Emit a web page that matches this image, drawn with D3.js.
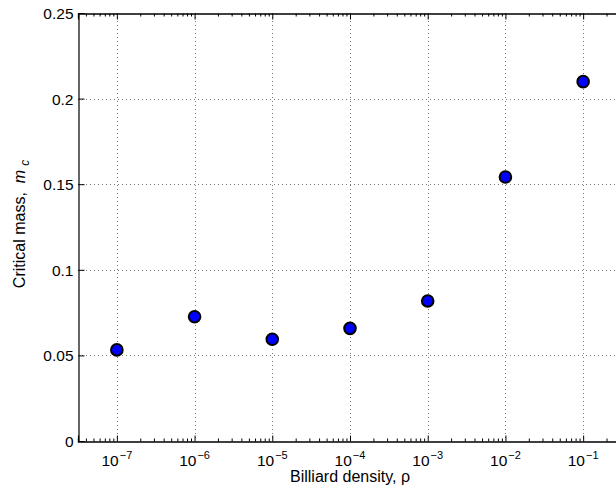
<!DOCTYPE html>
<html>
<head>
<meta charset="utf-8">
<script src="https://cdn.jsdelivr.net/npm/d3@7"></script>
<style>
  body { margin: 0; background: #fff; }
  text { font-family: "Liberation Sans", Arial, sans-serif; fill: #000; }
</style>
</head>
<body>
<script>
// data
var densityExp = [-7, -6, -5, -4, -3, -2, -1];
var criticalMass = [0.0532, 0.0726, 0.0594, 0.0658, 0.0818, 0.1542, 0.2099];
var yTicks = [0, 0.05, 0.1, 0.15, 0.2, 0.25];
var yTickLabels = ["0", "0.05", "0.1", "0.15", "0.2", "0.25"];

var W = 616, H = 494;
var plotL = 78, plotR = 622, plotT = 13, plotB = 441;

var svg = d3.select("body").append("svg")
  .attr("width", W)
  .attr("height", H);

var x = d3.scaleLog().domain([Math.pow(10, -7.5), Math.pow(10, -0.5)]).range([plotL, plotR]);
var y = d3.scaleLinear().domain([0, 0.25]).range([plotB, plotT]);

var majors = [];
for (var e = -7; e <= -1; e++) majors.push(Math.pow(10, e));
var minors = [];
for (var e = -8; e <= 0; e++) {
  for (var k = 2; k <= 9; k++) {
    var v = k * Math.pow(10, e);
    if (v > x.domain()[0] && v < x.domain()[1]) minors.push(v);
  }
}

// grid
var grid = svg.append("g")
  .attr("stroke", "#7a7a7a")
  .attr("stroke-width", 1)
  .attr("stroke-dasharray", "1,3");
grid.selectAll(".gx").data(majors).enter().append("line")
  .attr("x1", d => Math.round(x(d)) + 0.5).attr("x2", d => Math.round(x(d)) + 0.5)
  .attr("y1", plotT).attr("y2", plotB);
grid.selectAll(".gy").data(yTicks.slice(1, -1)).enter().append("line")
  .attr("y1", d => Math.round(y(d)) + 0.5).attr("y2", d => Math.round(y(d)) + 0.5)
  .attr("x1", plotL).attr("x2", plotR);

// axes with inward ticks
var xAxisB = d3.axisBottom(x).tickValues(majors).tickSize(-6).tickFormat("");
var xMinorB = d3.axisBottom(x).tickValues(minors).tickSize(-3).tickFormat("");
var xAxisT = d3.axisTop(x).tickValues(majors).tickSize(-6).tickFormat("");
var xMinorT = d3.axisTop(x).tickValues(minors).tickSize(-3).tickFormat("");
var yAxis = d3.axisLeft(y).tickValues(yTicks).tickSize(-6).tickFormat("");

function styleAxis(g) {
  g.selectAll("path, line").attr("stroke", "#000").attr("stroke-width", 1);
}
svg.append("g").attr("transform", "translate(0," + (plotB + 0.5) + ")").call(xAxisB).call(styleAxis);
svg.append("g").attr("transform", "translate(0," + (plotB + 0.5) + ")").call(xMinorB).call(styleAxis);
svg.append("g").attr("transform", "translate(0," + (plotT + 0.5) + ")").call(xAxisT).call(styleAxis);
svg.append("g").attr("transform", "translate(0," + (plotT + 0.5) + ")").call(xMinorT).call(styleAxis);
svg.append("g").attr("transform", "translate(" + (plotL + 0.5) + ",0)").call(yAxis).call(styleAxis);
svg.selectAll(".domain").attr("stroke-width", 1.2);

// y tick labels
svg.append("g").selectAll("text").data(yTicks).enter().append("text")
  .attr("x", plotL - 4.5)
  .attr("y", d => y(d) + 6)
  .attr("text-anchor", "end")
  .style("font-size", "15.5px")
  .text((d, i) => yTickLabels[i]);

// x tick labels 10^e
var xl = svg.append("g").selectAll("text").data(densityExp).enter().append("text")
  .attr("x", d => x(Math.pow(10, d)))
  .attr("y", 466)
  .attr("text-anchor", "middle")
  .style("font-size", "15.5px");
xl.append("tspan").text("10");
xl.append("tspan").attr("dy", -7).attr("dx", 1).style("font-size", "11px").text(d => "\u2212" + Math.abs(d));

// markers
svg.append("g").selectAll("circle").data(densityExp).enter().append("circle")
  .attr("cx", d => x(Math.pow(10, d)))
  .attr("cy", (d, i) => y(criticalMass[i]))
  .attr("r", 5.8)
  .attr("fill", "#0000ff")
  .attr("stroke", "#000")
  .attr("stroke-width", 2);

// axis titles
svg.append("text")
  .attr("x", 350)
  .attr("y", 482)
  .attr("text-anchor", "middle")
  .style("font-size", "16px")
  .text("Billiard density, \u03c1");

var yl = svg.append("text")
  .attr("transform", "translate(25," + ((plotT + plotB) / 2 - 3) + ") rotate(-90)")
  .attr("text-anchor", "middle")
  .style("font-size", "16px");
yl.append("tspan").text("Critical mass,");
yl.append("tspan").attr("dx", 9).style("font-style", "italic").text("m");
yl.append("tspan").attr("dy", 4).attr("dx", 4).style("font-size", "12px").style("font-style", "italic").text("c");
</script>
</body>
</html>
